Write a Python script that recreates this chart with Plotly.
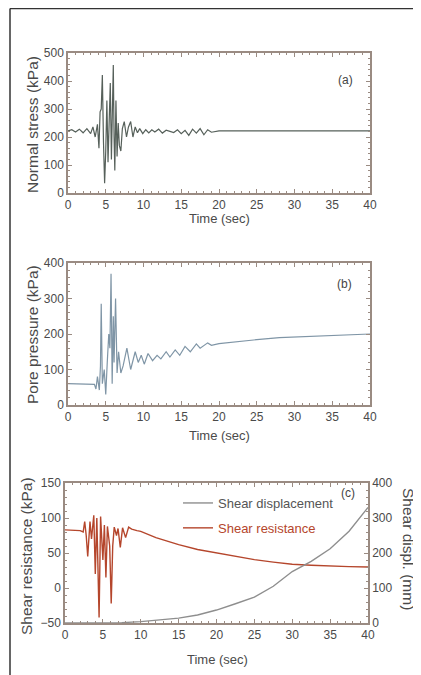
import plotly.graph_objects as go

W, H = 421, 675

# ---------------- data ----------------
# (a) Normal stress (kPa)
t_a = [0, 0.5, 1.0, 1.5, 2.0, 2.5, 3.0, 3.3, 3.6, 3.9, 4.1, 4.25, 4.4, 4.55, 4.7, 4.85, 5.0,
       5.15, 5.3, 5.45, 5.6, 5.75, 5.9, 6.0, 6.1, 6.2, 6.35, 6.5, 6.65, 6.8, 7.0, 7.2, 7.45,
       7.75, 8.0, 8.3, 8.6, 8.9, 9.2, 9.5, 9.9, 10.3, 10.7, 11.1, 11.5, 12.0, 12.5, 13.0, 13.5,
       14.0, 14.5, 15.0, 15.5, 16.0, 16.5, 17.0, 17.5, 18.0, 18.5, 19.0, 20, 25, 30, 35, 40]
normal_stress = [222, 226, 218, 228, 215, 230, 212, 236, 200, 245, 160, 290, 300, 421, 180, 35, 150,
                 330, 110, 260, 393, 120, 300, 457, 200, 80, 330, 130, 250, 170, 150, 230, 255,
                 200, 235, 255, 200, 236, 215, 230, 212, 226, 215, 226, 218, 228, 214, 224, 220,
                 216, 226, 212, 224, 206, 228, 214, 230, 208, 226, 217, 222, 222, 222, 222, 222]

# (b) Pore pressure (kPa)
t_b = [0, 1, 2, 3, 3.5, 3.7, 3.9, 4.15, 4.3, 4.4, 4.55, 4.8, 5.0, 5.2, 5.4, 5.55, 5.7, 5.85,
       6.0, 6.1, 6.3, 6.5, 6.7, 7.0, 7.3, 7.8, 8.3, 8.9, 9.3, 9.7, 10.1, 10.6, 11.2, 11.8,
       12.3, 13.0, 13.5, 14.2, 14.8, 15.5, 16.2, 17.0, 17.5, 18.5, 19.0, 20, 22, 25, 28, 30,
       33, 36, 40]
pore_pressure = [60, 60, 60, 60, 58, 45, 80, 42, 110, 285, 60, 100, 30, 120, 200, 160, 370, 60,
                 250, 120, 300, 90, 150, 90, 110, 160, 100, 150, 120, 140, 115, 145, 125, 140,
                 130, 150, 135, 155, 140, 165, 150, 172, 160, 175, 168, 173, 178, 184, 190, 192,
                 195, 198, 200]

# (c) Shear resistance (kPa) and shear displacement (mm)
t_c = [0, 1, 2, 2.4, 2.6, 2.8, 3.0, 3.3, 3.5, 3.8, 4.0, 4.2, 4.5, 4.7, 5.0, 5.2, 5.4, 5.6,
       5.9, 6.1, 6.3, 6.5, 6.8, 7.0, 7.3, 7.6, 8.0, 8.4, 8.8, 9.5, 10, 12, 15, 17.5, 20, 22.5,
       25, 27.5, 30, 32.5, 35, 37.5, 40]
shear_resistance = [83, 83, 82, 80, 95, 75, 45, 95, 70, 104, 20, 100, -42, 102, 40, 90, 15, 88,
                    60, -22, 60, 87, 75, 85, 58, 86, 72, 87, 84, 82, 81, 72, 62, 55, 50, 45,
                    40.5, 37, 34, 32.5, 31, 30.5, 30]
t_d = [0, 2.5, 5, 7.5, 10, 12.5, 15, 17.5, 20, 22.5, 25, 27.5, 30, 32.5, 35, 37.5, 40]
shear_displacement = [0, 0, 0, 1, 4, 9, 14, 23, 37, 55, 74, 105, 147, 176, 212, 262, 330]

# ---------------- style ----------------
AX = "#9a8b82"
TXT = "#4a4a4a"
TICKF = dict(family="'Liberation Sans Narrow', 'Liberation Sans', Arial, sans-serif",
             size=12, color=TXT)
TITLEF = dict(family="'Liberation Sans', Arial, sans-serif", size=13, color=TXT)
YTITLEF = dict(family="'Liberation Sans', Arial, sans-serif", size=15.5, color=TXT)

# page offset (body margin) compensation
OX, OY = 8, 8


def px(x):
    return (x - OX) / W


def py(y):
    return 1 - (y - OY) / H


fig = go.Figure()
fig.add_trace(go.Scatter(x=t_a, y=normal_stress, mode="lines", line=dict(color="#56605a", width=1.2),
                         xaxis="x", yaxis="y", showlegend=False))
fig.add_trace(go.Scatter(x=t_b, y=pore_pressure, mode="lines", line=dict(color="#7f95a6", width=1.2),
                         xaxis="x2", yaxis="y2", showlegend=False))
fig.add_trace(go.Scatter(x=t_d, y=shear_displacement, mode="lines", name="Shear displacement",
                         line=dict(color="#8e8e8e", width=1.4), xaxis="x3", yaxis="y4",
                         legendgroup="g1"))
fig.add_trace(go.Scatter(x=t_c, y=shear_resistance, mode="lines",
                         name='<span style="color:#b5462c">Shear resistance</span>',
                         line=dict(color="#b5462c", width=1.4), xaxis="x3", yaxis="y3",
                         legendgroup="g2"))

common = dict(showline=True, linecolor=AX, linewidth=1.5, ticks="inside", ticklen=4,
              tickcolor=AX, tickwidth=1, showgrid=False, zeroline=False, tickfont=TICKF,
              ticklabelstandoff=0, automargin=False)


def xax(dom_x, anchor):
    return dict(domain=dom_x, range=[0, 40], dtick=5, mirror="ticks", anchor=anchor,
                minor=dict(dtick=1, ticks="inside", ticklen=2, tickcolor=AX), **common)


def yax(dom_y, rng, dt, mdt, anchor, mirror="ticks"):
    return dict(domain=dom_y, range=rng, dtick=dt, mirror=mirror, anchor=anchor,
                minor=dict(dtick=mdt, ticks="inside", ticklen=2, tickcolor=AX), **common)


xa = [px(68), px(370)]
xc = [px(65), px(368)]

fig.update_layout(
    template="none",
    width=W, height=H,
    margin=dict(l=0, r=0, t=0, b=0, pad=0, autoexpand=False),
    paper_bgcolor="white", plot_bgcolor="white",
    xaxis=xax(xa, "y"),
    yaxis=yax([py(193), py(53)], [0, 500], 100, 20, "x"),
    xaxis2=xax(xa, "y2"),
    yaxis2=yax([py(405), py(263)], [0, 400], 100, 20, "x2"),
    xaxis3=xax(xc, "y3"),
    yaxis3=yax([py(623), py(483)], [-50, 150], 50, 10, "x3", mirror=True),
    yaxis4=dict(overlaying="y3", side="right", anchor="x3", range=[0, 400], dtick=100,
                minor=dict(dtick=20, ticks="inside", ticklen=2, tickcolor=AX), **common),
    legend=dict(x=px(178), y=py(488), xanchor="left", yanchor="top",
                font=dict(family="'Liberation Sans', Arial, sans-serif", size=13, color="#555555"),
                bgcolor="rgba(0,0,0,0)", tracegroupgap=5, traceorder="grouped",
                itemwidth=30),
    showlegend=True,
)

ann = [
    ("Time (sec)", px(219), py(219), 0, TITLEF),
    ("Time (sec)", px(219), py(435), 0, TITLEF),
    ("Time (sec)", px(217), py(659), 0, TITLEF),
    ("Normal stress (kPa)", px(32), py(125), -90, YTITLEF),
    ("Pore pressure (kPa)", px(32), py(335), -90, YTITLEF),
    ("Shear resistance (kPa)", px(26), py(556), -90, YTITLEF),
    ("Shear displ. (mm)", px(409), py(549), 90, YTITLEF),
]
for text, x, y, ang, f in ann:
    fig.add_annotation(text=text, x=x, y=y, xref="paper", yref="paper", showarrow=False,
                       textangle=ang, font=f, xanchor="center", yanchor="middle")

for text, x, y in [("(a)", 355, 71), ("(b)", 354, 284), ("(c)", 357, 502)]:
    fig.add_annotation(text=text, x=px(x), y=py(y), xref="paper", yref="paper", showarrow=False,
                       font=dict(family="'Liberation Sans Narrow', sans-serif", size=12, color="#444"))

# scan frame lines
fig.add_shape(type="line", xref="paper", yref="paper", x0=px(10), x1=1, y0=py(8.6), y1=py(8.6),
              line=dict(color="#333333", width=1.5))
fig.add_shape(type="line", xref="paper", yref="paper", x0=px(10), x1=px(10), y0=py(8.6), y1=0,
              line=dict(color="#333333", width=1.5))

fig.write_html("out.html")
